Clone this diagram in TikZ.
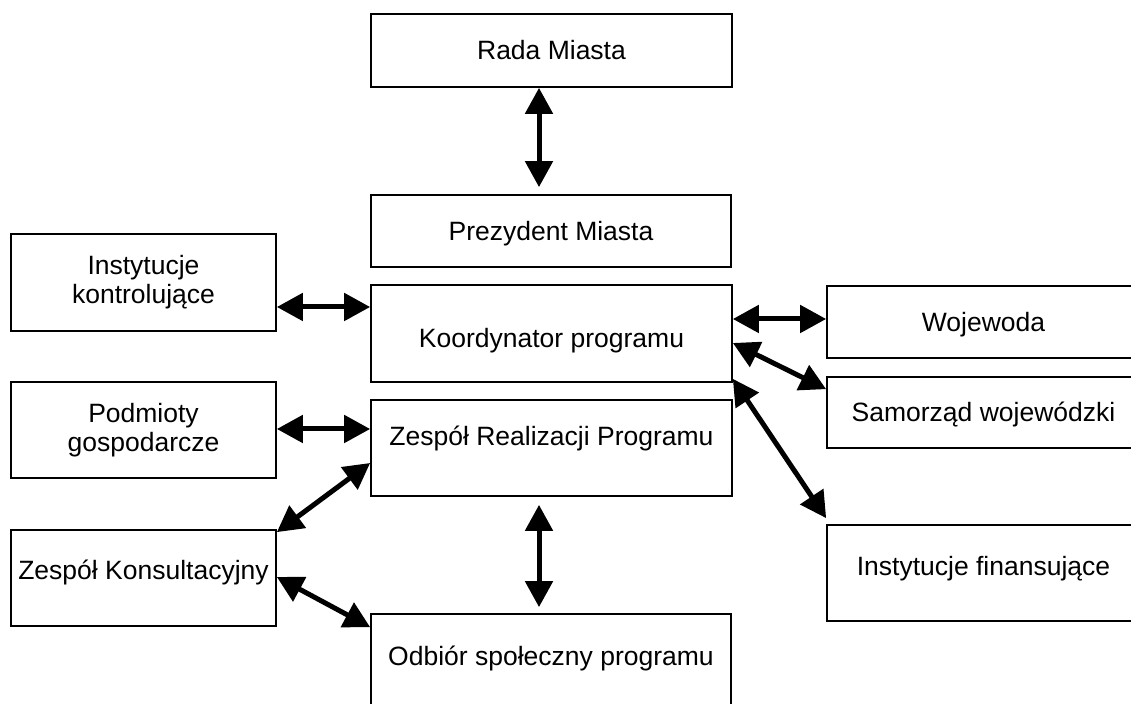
\documentclass[tikz,border=0pt]{standalone}
\usepackage{fontspec}
\setmainfont{Liberation Sans}
\usetikzlibrary{arrows.meta}
\begin{document}
\begin{tikzpicture}[x=0.5pt,y=-0.5pt,
  box/.style={draw=black, line width=0.85pt, fill=white, inner sep=0pt,
    font=\fontsize{13.25}{14.5}\selectfont, align=center},
  tx/.style={text height=#1, text depth=5pt},
  arr/.style={{Triangle[length=13pt,width=13.5pt]}-{Triangle[length=13pt,width=13.5pt]}, line width=2.5pt}]
\useasboundingbox (0,0) rectangle (1131,704);
\clip (0,0) rectangle (1131,704);
\fill[white] (0,0) rectangle (1131,704);
% boxes
\node[box, tx=14.5pt, minimum width=180.5pt, minimum height=36.5pt] (rada) at (551.5,50.5) {Rada Miasta};
\node[box, tx=14.5pt, minimum width=180pt, minimum height=36pt] (prez) at (551,231) {Prezydent Miasta};
\node[box, tx=19pt, minimum width=180.5pt, minimum height=48.5pt] (koord) at (551.5,333.5) {Koordynator programu};
\node[box, tx=2.5pt, minimum width=180.5pt, minimum height=48pt] (zrp) at (551.5,448) {Zespół Realizacji Programu};
\node[box, minimum width=132.5pt, minimum height=48.5pt] (ik) at (143.5,282.5) {Instytucje\\kontrolujące};
\node[box, minimum width=132.5pt, minimum height=48pt] (pod) at (143.5,430) {Podmioty\\gospodarcze};
\node[box, tx=6.5pt, minimum width=132.5pt, minimum height=48pt] (zk) at (143.5,578) {Zespół Konsultacyjny};
\node[box, tx=9pt, minimum width=180pt, minimum height=48pt] (odb) at (551,662) {Odbiór społeczny programu};
\node[box, tx=14.5pt, minimum width=156.5pt, minimum height=36pt] (woj) at (983.5,322) {Wojewoda};
\node[box, tx=14.5pt, minimum width=156.5pt, minimum height=35.5pt] (sam) at (983.5,412.5) {Samorząd wojewódzki};
\node[box, tx=7.5pt, minimum width=156.5pt, minimum height=48pt] (fin) at (983.5,573) {Instytucje finansujące};
% connectors
\draw[arr, shorten >=3.5pt] ([xshift=-6.25pt]rada.south) -- ([xshift=-6pt]prez.north);
\draw[arr, shorten <=4pt, shorten >=3pt] ([xshift=-6.25pt]zrp.south) -- ([xshift=-6pt]odb.north);
\draw[arr] ([yshift=-12.25pt]ik.east) -- ([yshift=13.25pt]koord.west);
\draw[arr] ([yshift=0.5pt]pod.east) -- ([yshift=9.5pt]zrp.west);
\draw[arr] ([yshift=-7.5pt]zrp.west) -- ([yshift=-1.5pt]zk.north east);
\draw[arr] ([yshift=0.5pt]zk.east) -- ([yshift=-7pt]odb.north west);
\draw[arr] ([yshift=7.25pt]koord.east) -- ([yshift=1.5pt]woj.west);
\draw[arr] ([yshift=-4.75pt]koord.east) -- ([yshift=-6.5pt]sam.north west);
\draw[arr] ([yshift=2pt]koord.south east) -- ([yshift=3pt]fin.north west);
\end{tikzpicture}
\end{document}
